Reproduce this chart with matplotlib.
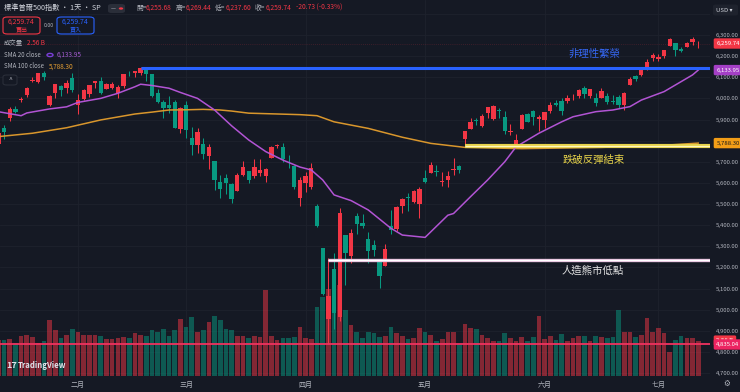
import matplotlib
matplotlib.use("Agg")
import matplotlib.pyplot as plt
from matplotlib.patches import FancyBboxPatch, Circle
from matplotlib.transforms import blended_transform_factory
import numpy as np

plt.rcParams["font.family"] = ["Noto Sans CJK TC", "DejaVu Sans"]

# ---- data (S&P 500 daily) ----
dates = ['01-13','01-14','01-15','01-16','01-17','01-21','01-22','01-23','01-24','01-27','01-28','01-29','01-30','01-31',
         '02-03','02-04','02-05','02-06','02-07','02-10','02-11','02-12','02-13','02-14','02-18','02-19','02-20','02-21','02-24','02-25','02-26','02-27','02-28',
         '03-03','03-04','03-05','03-06','03-07','03-10','03-11','03-12','03-13','03-14','03-17','03-18','03-19','03-20','03-21','03-24','03-25','03-26','03-27','03-28','03-31',
         '04-01','04-02','04-03','04-04','04-07','04-08','04-09','04-10','04-11','04-14','04-15','04-16','04-17','04-21','04-22','04-23','04-24','04-25','04-28','04-29','04-30',
         '05-01','05-02','05-05','05-06','05-07','05-08','05-09','05-12','05-13','05-14','05-15','05-16','05-19','05-20','05-21','05-22','05-23','05-27','05-28','05-29','05-30',
         '06-02','06-03','06-04','06-05','06-06','06-09','06-10','06-11','06-12','06-13','06-16','06-17','06-18','06-20','06-23','06-24','06-25','06-26','06-27','06-30',
         '07-01','07-02','07-03','07-07','07-08','07-09','07-10','07-11']

opens = [5782.4, 5859.0, 5905.2, 5951.6, 5990.0, 6014.1, 6081.4, 6076.3, 6121.4, 5969.0, 6026.0, 6057.7, 6050.8, 6096.8,
         5969.7, 5998.1, 6020.5, 6072.2, 6083.1, 6046.4, 6049.3, 6025.1, 6060.6, 6115.5, 6121.6, 6117.8, 6134.5, 6114.1, 6026.7, 5982.7, 5970.9, 5981.9, 5856.7,
         5968.3, 5812.0, 5781.4, 5785.9, 5726.0, 5705.4, 5603.7, 5624.8, 5594.5, 5563.9, 5635.6, 5654.5, 5632.4, 5646.9, 5630.7, 5718.1, 5775.9, 5771.7, 5695.6, 5679.0, 5527.9,
         5597.5, 5580.8, 5492.7, 5292.1, 4953.8, 5193.6, 4965.3, 5353.2, 5255.6, 5442.0, 5412.0, 5335.8, 5305.5, 5232.9, 5207.7, 5395.9, 5381.4, 5489.7, 5529.2, 5508.9, 5499.4,
         5625.1, 5645.6, 5655.3, 5605.9, 5614.0, 5663.0, 5679.0, 5807.8, 5854.6, 5899.0, 5869.8, 5929.1, 5902.9, 5944.7, 5911.0, 5841.3, 5781.9, 5854.1, 5925.0, 5939.9, 5903.7,
         5896.7, 5938.6, 5978.9, 5985.7, 5987.1, 6004.6, 6009.9, 6049.4, 6009.9, 6000.6, 6004.0, 6012.2, 5987.9, 6004.6, 5969.7, 6061.2, 6104.2, 6112.1, 6150.7, 6193.4,
         6187.3, 6199.2, 6246.5, 6259.8, 6233.5, 6241.8, 6266.8, 6255.68]

highs = [5838.6, 5871.9, 5960.6, 5964.7, 6008.6, 6051.5, 6100.8, 6118.7, 6128.2, 6017.2, 6069.1, 6062.8, 6086.6, 6120.9,
         6022.1, 6042.5, 6062.9, 6084.0, 6101.3, 6073.4, 6076.3, 6063.1, 6116.9, 6127.5, 6129.6, 6147.4, 6134.5, 6114.8, 6043.6, 5992.7, 6009.8, 5993.7, 5959.4,
         5986.1, 5865.1, 5860.6, 5812.1, 5783.0, 5705.4, 5636.3, 5642.2, 5597.8, 5645.3, 5703.5, 5654.5, 5715.3, 5711.2, 5670.8, 5775.1, 5783.9, 5787.0, 5732.3, 5685.9, 5627.6,
         5650.6, 5695.3, 5499.5, 5292.1, 5246.6, 5267.5, 5481.3, 5353.2, 5381.5, 5459.5, 5450.4, 5367.2, 5328.3, 5232.9, 5309.6, 5469.7, 5489.4, 5528.1, 5553.7, 5565.1, 5581.8,
         5658.9, 5700.7, 5683.1, 5649.4, 5654.2, 5720.1, 5683.4, 5844.2, 5906.6, 5906.6, 5924.2, 5958.6, 5968.6, 5953.1, 5939.8, 5878.1, 5829.5, 5924.3, 5929.4, 5943.1, 5922.1,
         5937.4, 5981.4, 5990.5, 5999.7, 6016.9, 6021.3, 6043.0, 6059.4, 6045.4, 6026.2, 6050.8, 6023.3, 6018.2, 6018.2, 6028.8, 6101.8, 6108.5, 6146.5, 6187.7, 6215.1,
         6210.8, 6227.6, 6284.7, 6262.3, 6242.2, 6269.1, 6290.2, 6269.44]

lows = [5773.3, 5805.5, 5894.8, 5930.4, 5982.0, 6006.9, 6076.1, 6074.7, 6088.7, 5962.9, 6000.9, 6012.9, 6027.5, 6030.9,
        5923.9, 5990.9, 6007.1, 6046.8, 6020.0, 6044.8, 6042.3, 6003.0, 6051.0, 6107.6, 6099.5, 6111.2, 6084.6, 6008.6, 5977.8, 5908.5, 5932.7, 5858.8, 5837.7,
        5810.9, 5732.6, 5742.4, 5711.6, 5666.3, 5564.0, 5528.4, 5546.1, 5504.7, 5563.9, 5631.1, 5597.8, 5622.2, 5632.8, 5603.1, 5718.1, 5764.6, 5699.8, 5670.9, 5572.4, 5488.7,
        5558.5, 5571.5, 5390.8, 5069.9, 4835.04, 4910.4, 4948.4, 5115.3, 5220.8, 5358.0, 5386.4, 5220.8, 5255.6, 5101.6, 5207.7, 5356.2, 5372.0, 5455.9, 5468.6, 5505.7, 5433.2,
        5597.4, 5644.4, 5634.5, 5587.0, 5578.6, 5635.0, 5646.8, 5775.4, 5853.2, 5872.1, 5865.2, 5907.4, 5895.7, 5909.3, 5830.9, 5825.8, 5767.4, 5854.1, 5886.6, 5873.8, 5843.7,
        5861.4, 5929.0, 5966.1, 5921.2, 5978.6, 5994.2, 6000.3, 6002.3, 6003.9, 5963.2, 6004.0, 5974.8, 5971.9, 5952.6, 5943.2, 6061.2, 6080.1, 6107.9, 6132.4, 6178.0,
        6177.1, 6193.2, 6246.5, 6201.0, 6217.9, 6241.8, 6251.6, 6237.60]

closes = [5836.2, 5842.9, 5949.9, 5937.3, 5996.7, 6049.2, 6086.4, 6118.7, 6101.2, 6012.3, 6067.7, 6039.3, 6071.2, 6040.5,
          5994.6, 6037.9, 6061.5, 6083.6, 6026.0, 6066.4, 6068.5, 6052.0, 6115.1, 6114.6, 6129.6, 6144.15, 6117.5, 6013.1, 5983.3, 5955.3, 5956.1, 5861.6, 5954.5,
          5849.7, 5778.2, 5842.6, 5738.5, 5770.2, 5614.6, 5572.1, 5599.3, 5521.5, 5638.9, 5675.1, 5614.7, 5675.3, 5662.9, 5667.6, 5767.6, 5776.7, 5712.2, 5693.3, 5580.9, 5611.9,
          5633.1, 5671.0, 5396.5, 5074.1, 5062.3, 4982.8, 5456.9, 5268.1, 5363.4, 5406.0, 5396.6, 5275.7, 5282.7, 5158.2, 5287.8, 5375.9, 5484.8, 5525.2, 5528.8, 5560.8, 5569.1,
          5604.1, 5686.7, 5650.4, 5606.9, 5631.3, 5663.9, 5659.9, 5844.2, 5886.6, 5892.6, 5916.9, 5958.4, 5963.6, 5940.5, 5844.6, 5842.0, 5802.8, 5921.5, 5888.6, 5912.2, 5911.7,
          5935.9, 5970.4, 5970.8, 5939.3, 6000.4, 6005.9, 6038.8, 6022.2, 6045.3, 5977.0, 6033.1, 5982.7, 5980.9, 5967.8, 6025.2, 6092.2, 6092.2, 6141.0, 6173.1, 6205.0,
          6198.0, 6227.4, 6279.4, 6230.0, 6225.5, 6263.3, 6280.47, 6259.74]

# volume in billions
volumes = [2.6, 2.6, 2.7, 2.4, 2.9, 3.0, 2.8, 2.4, 2.5, 4.05, 3.3, 2.75, 3.0, 3.4,
           3.2, 3.0, 3.0, 3.0, 2.9, 2.7, 2.7, 2.75, 2.8, 2.75, 3.1, 3.0, 2.9, 3.3, 3.2, 3.4, 2.9, 3.3, 4.1,
           3.55, 4.3, 3.2, 3.3, 3.9, 4.35, 4.05, 3.4, 3.3, 2.9, 2.9, 2.75, 2.9, 2.8, 6.2, 2.9, 2.6, 2.75, 2.75, 2.8, 3.55,
           2.75, 2.7, 5.0, 5.7, 6.3, 5.6, 6.6, 4.8, 3.7, 3.2, 2.75, 3.2, 3.1, 2.85, 2.9, 3.55, 3.1, 2.9, 2.7, 2.75, 3.5,
           3.2, 3.0, 2.55, 2.65, 3.2, 3.2, 2.35, 3.75, 3.45, 3.4, 3.0, 2.75, 2.55, 2.5, 3.1, 2.75, 2.55, 2.8, 2.55, 2.8, 4.35,
           2.65, 2.9, 2.6, 3.05, 2.5, 2.75, 2.9, 2.9, 2.55, 2.9, 2.85, 2.75, 2.85, 4.75, 3.2, 3.15, 2.8, 3.0, 4.2, 3.2,
           3.45, 3.1, 1.75, 2.6, 2.9, 2.75, 2.75, 2.56]

# moving averages (bar index, value)
sma20_idx = [0, 4, 5, 9, 12, 14, 18, 21, 24, 25, 27, 30, 32, 35, 38, 41, 44, 47, 50, 53, 55, 57, 59, 62, 65, 69, 71, 75, 79, 80, 83, 86, 89, 91, 95, 99, 101, 105, 108, 111, 113, 117, 122, 123]
sma20_val = [5937, 5918, 5931, 5950, 5960, 5981, 6000, 6024, 6055, 6067, 6061, 6048, 6028, 6000, 5945, 5870, 5803, 5748, 5708, 5675, 5661, 5614, 5543, 5516, 5472, 5385, 5353, 5342, 5447, 5455, 5535, 5614, 5700, 5771, 5835, 5889, 5913, 5937, 5945, 5961, 5992, 6032, 6111, 6133.95]
sma100_idx = [0, 6, 12, 18, 24, 27, 30, 33, 36, 39, 41, 44, 53, 56, 59, 65, 71, 76, 82, 92, 106, 117, 123]
sma100_val = [5819, 5835, 5861, 5898, 5926, 5935, 5945, 5946, 5948, 5945, 5940, 5930, 5923, 5918, 5889, 5858, 5816, 5787, 5768, 5762, 5768, 5778, 5788.30]

month_labels = ['二月', '三月', '四月', '五月', '六月', '七月']
month_start = ['02-03', '03-03', '04-01', '05-01', '06-02', '07-01']

white_level = 5235  # 人造熊市低點 line

# ---- style ----
bg = "#151924"
grid_col = "#1e222d"
up_col = "#f23645"
dn_col = "#089981"
txt_col = "#b2b5be"

W, H = 740, 392
fig = plt.figure(figsize=(W / 100, H / 100), dpi=100, facecolor=bg)
rect = [0, 16 / H, 710 / W, 376 / H]
axv = fig.add_axes(rect)
ax = fig.add_axes(rect)
ax.patch.set_visible(False)
axv.set_facecolor(bg)

x = np.arange(len(dates))
o = np.array(opens); h = np.array(highs); l = np.array(lows); c = np.array(closes)
colors = np.where(c >= o, up_col, dn_col)

xlim = (0.29, 125.07)
ax.set_xlim(*xlim)
axv.set_xlim(*xlim)
ax.set_ylim(4685.8, 6465.7)
axv.set_ylim(0, 27.2)

# grid behind volume
gtrans = blended_transform_factory(axv.transAxes, ax.transData)
for p in range(4700, 6401, 100):
    axv.plot([0, 1], [p, p], transform=gtrans, color=grid_col, lw=0.6, zorder=0)
month_idx = [dates.index(d) for d in month_start]
for m in month_idx:
    axv.axvline(m, color=grid_col, lw=0.6, zorder=0)

# volume
axv.bar(x, volumes, width=0.82, color=colors, alpha=0.5, linewidth=0, zorder=2)

# candles
ax.vlines(x, l, h, color=colors, lw=0.75, zorder=3)
body_low = np.minimum(o, c)
body_h = np.maximum(np.abs(c - o), 2.5)
ax.bar(x, body_h, bottom=body_low, width=0.76, color=colors, linewidth=0, zorder=4)

# moving averages
ax.plot(sma100_idx, sma100_val, color="#d9962c", lw=1.1, zorder=5)
ax.plot(sma20_idx, sma20_val, color="#b254d4", lw=1.1, zorder=5)

# drawn levels
xr = xlim[1]
i_blue = dates.index('02-19')
ax.hlines(closes[i_blue], i_blue, xr, color="#2962ff", lw=2.2, zorder=6)
i_yel = dates.index('05-12')
ax.hlines(lows[i_yel], i_yel, xr, color="#e6d24a", lw=3.0, zorder=6)
ax.hlines(lows[i_yel], i_yel, xr, color="#fff6c0", lw=0.9, zorder=6)
i_wht = dates.index('04-07')
ax.hlines(white_level, i_wht, xr, color="#e8c3df", lw=2.4, zorder=6)
ax.hlines(white_level, i_wht, xr, color="#ffffff", lw=0.9, zorder=6)

low_all = min(lows)
ax.axhline(low_all, color="#f0325f", lw=1.3, zorder=6)
ax.axhline(closes[-1], color=up_col, lw=0.5, ls=(0, (1, 2)), alpha=0.35, zorder=2)

ax.text(104.7, 6210, "非理性繁榮", color="#3566f0", fontsize=7.5, ha="center", va="center", zorder=7)
ax.text(104.6, 5708, "跌破反彈結束", color="#e6d24a", fontsize=7.5, ha="center", va="center", zorder=7)
ax.text(104.5, 5183, "人造熊市低點", color="#e6e6e6", fontsize=7.5, ha="center", va="center", zorder=7)

# axes styling
for a in (ax, axv):
    for s in a.spines.values():
        s.set_visible(False)
axv.set_xticks([]); axv.set_yticks([])
ax.yaxis.tick_right()
# 5,800 sits under the SMA 100 tag in the reference
ax.set_yticks([p for p in range(4700, 6301, 100) if p != 5800])
ax.yaxis.set_major_formatter(plt.FuncFormatter(lambda v, p: f"{v:,.2f}"))
ax.tick_params(axis="y", length=0, pad=4, labelsize=4.3, labelcolor=txt_col)
ax.set_xticks(month_idx)
ax.set_xticklabels(month_labels)
ax.tick_params(axis="x", length=0, pad=3.5, labelsize=5, labelcolor=txt_col)

# price tags on the scale
def tag(axis, yval, text, fc, tc):
    axis.text(1.009, yval, text, transform=axis.get_yaxis_transform(), fontsize=4.3, color=tc,
              ha="left", va="center", zorder=10, clip_on=False,
              bbox=dict(boxstyle="round,pad=0.45,rounding_size=0.25", fc=fc, ec="none"))

tag(ax, closes[-1], f"{closes[-1]:,.2f}", up_col, "white")
tag(ax, sma20_val[-1], f"{sma20_val[-1]:,.2f}", "#a43fc6", "white")
tag(ax, sma100_val[-1], f"{sma100_val[-1]:,.2f}", "#f29d17", "#1a1a1a")
tag(axv, volumes[-1], f"{volumes[-1]:.2f} B", up_col, "white")
tag(ax, low_all, f"{low_all:,.2f}", "#ec2462", "white")

# ---- header overlay ----
def fx(px): return px / W
def fy(py): return 1 - py / H

fig.text(fx(4), fy(8), "標準普爾500指數 · 1天 · SP", color="#d1d4dc", fontsize=5.2, va="center")
fig.patches.append(FancyBboxPatch((fx(108), fy(13)), fx(17), 9 / H, boxstyle="round,pad=0,rounding_size=0.005",
                                  transform=fig.transFigure, fc="#2a2e39", ec="none"))
fig.text(fx(111), fy(8.5), "—", color="#d1d4dc", fontsize=4, va="center")
fig.patches.append(Circle((fx(121), fy(8.5)), 2.2 / W, transform=fig.transFigure, fc=up_col, ec="none"))

chg = closes[-1] - closes[-2]
pct = chg / closes[-2] * 100
for lab, val, xl, xv in [("開=", opens[-1], 136, 146), ("高=", highs[-1], 176, 186),
                         ("低=", lows[-1], 215, 226), ("收=", closes[-1], 255, 266)]:
    fig.text(fx(xl), fy(8), lab, color=txt_col, fontsize=4.8, va="center")
    fig.text(fx(xv), fy(8), f"{val:,.2f}", color=up_col, fontsize=4.8, va="center")
fig.text(fx(296), fy(8), f"{chg:+.2f} ({pct:+.2f}%)", color=up_col, fontsize=4.8, va="center")

# sell / buy boxes
for x0, col, lab in [(3, up_col, "賣出"), (57, "#2962ff", "買入")]:
    fig.patches.append(FancyBboxPatch((fx(x0), fy(34)), fx(37), 17 / H, boxstyle="round,pad=0,rounding_size=0.006",
                                      transform=fig.transFigure, fc=bg, ec=col, lw=0.8))
    fig.text(fx(x0 + 18.5), fy(22), f"{closes[-1]:,.2f}", color=col, fontsize=5, ha="center", va="center")
    fig.text(fx(x0 + 18.5), fy(29.5), lab, color=col, fontsize=4.3, ha="center", va="center")
fig.text(fx(48.5), fy(25.5), "0.00", color=txt_col, fontsize=3.8, ha="center", va="center")

fig.text(fx(4), fy(43), "成交量", color=txt_col, fontsize=4.6, va="center")
fig.text(fx(27), fy(43), f"{volumes[-1]:.2f} B", color=up_col, fontsize=4.6, va="center")
fig.text(fx(4), fy(55), "SMA 20 close", color=txt_col, fontsize=4.4, va="center")
fig.patches.append(Circle((fx(50), fy(55)), 3 / W, transform=fig.transFigure, fc="none", ec="#7b3fd9", lw=1.0))
fig.text(fx(57), fy(55), f"{sma20_val[-1]:,.2f}", color="#a35bcf", fontsize=4.6, va="center")
fig.text(fx(4), fy(66.5), "SMA 100 close", color=txt_col, fontsize=4.4, va="center")
fig.text(fx(49), fy(66.5), f"{sma100_val[-1]:,.2f}", color="#e8a033", fontsize=4.6, va="center")
fig.patches.append(FancyBboxPatch((fx(3), fy(85)), fx(14), 10 / H, boxstyle="round,pad=0,rounding_size=0.005",
                                  transform=fig.transFigure, fc=bg, ec="#2a2e39", lw=0.8))
fig.text(fx(10), fy(80.5), "^", color=txt_col, fontsize=5, ha="center", va="center")

# USD box
fig.patches.append(FancyBboxPatch((fx(713), fy(15.5)), fx(25), 11 / H, boxstyle="round,pad=0,rounding_size=0.004",
                                  transform=fig.transFigure, fc="#1e222d", ec="none"))
fig.text(fx(716), fy(10), "USD ▾", color="#d1d4dc", fontsize=4.3, va="center")

# logo and settings icon
fig.text(fx(6), fy(366), "17", color="#e0e3eb", fontsize=6.5, fontweight="bold", va="center")
fig.text(fx(18), fy(366), "TradingView", color="#e0e3eb", fontsize=5.6, fontweight="bold", va="center")
fig.text(fx(727), fy(384), "⚙", color=txt_col, fontsize=5.5, ha="center", va="center")

fig.savefig("out.png", dpi=100, facecolor=bg)
